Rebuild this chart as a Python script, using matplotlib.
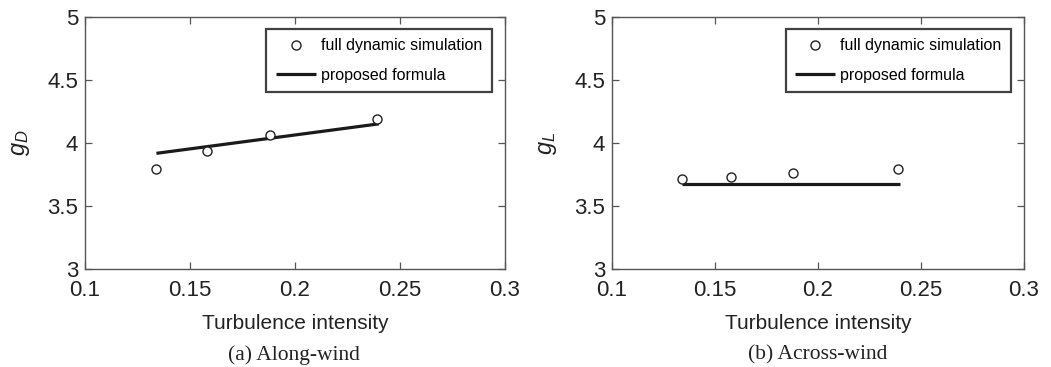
import matplotlib
matplotlib.use("Agg")
import matplotlib.pyplot as plt

# Data
ti_sim = [0.134, 0.158, 0.188, 0.239]
gD_sim = [3.795, 3.94, 4.066, 4.188]
gL_sim = [3.714, 3.73, 3.762, 3.794]
ti_formula = [0.134, 0.240]
gD_formula = [3.918, 4.152]
gL_formula = [3.675, 3.675]

xticks = [0.1, 0.15, 0.2, 0.25, 0.3]
xticklabels = ["0.1", "0.15", "0.2", "0.25", "0.3"]
yticks = [3, 3.5, 4, 4.5, 5]
yticklabels = ["3", "3.5", "4", "4.5", "5"]

plt.rcParams['font.family'] = ['Liberation Sans', 'DejaVu Sans']
plt.rcParams['mathtext.fontset'] = 'custom'
plt.rcParams['mathtext.it'] = 'Liberation Sans:italic'
plt.rcParams['mathtext.rm'] = 'Liberation Sans'

fig = plt.figure(figsize=(10.51, 3.67), dpi=100)
ax1 = fig.add_axes([85/1051, 1-269/367, 420/1051, 252/367])
ax2 = fig.add_axes([612/1051, 1-269/367, 412/1051, 252/367])

spine_col = '#555555'
for ax, ysim, yf, ylab, cap, capx in [
    (ax1, gD_sim, gD_formula, r'$g_D$', '(a) Along-wind', 294/1051),
    (ax2, gL_sim, gL_formula, r'$g_L$', '(b) Across-wind', 818/1051),
]:
    ax.plot(ti_sim, ysim, linestyle='none', marker='o', markersize=6.5,
            markerfacecolor='white', markeredgecolor='#222222', markeredgewidth=1.0,
            label='full dynamic simulation', zorder=3)
    ax.plot(ti_formula, yf, color='#1a1a1a', linewidth=2.3, solid_capstyle='butt',
            label='proposed formula', zorder=2)
    ax.set_xlim(0.1, 0.3)
    ax.set_ylim(3, 5)
    ax.set_xticks(xticks)
    ax.set_xticklabels(xticklabels)
    ax.set_yticks(yticks)
    ax.set_yticklabels(yticklabels)
    ax.tick_params(direction='in', top=True, right=True, length=5, width=0.9,
                   color=spine_col, labelsize=16, labelcolor='#222222')
    ax.tick_params(axis='x', pad=8)
    ax.tick_params(axis='y', pad=5)
    for s in ax.spines.values():
        s.set_color(spine_col)
        s.set_linewidth(1.0)
    ax.set_xlabel('Turbulence intensity', fontsize=15, color='#222222', labelpad=9)
    ax.set_ylabel(ylab, fontsize=17, color='#222222', labelpad=11)
    leg = ax.legend(loc='upper right', bbox_to_anchor=(0.968, 0.953),
                    fontsize=11.5, frameon=True, fancybox=False, handlelength=2.5,
                    borderpad=0.6, labelspacing=0.9, handletextpad=0.3, borderaxespad=0)
    leg.get_frame().set_edgecolor('#111111')
    leg.get_frame().set_linewidth(1.6)
    fig.text(capx, 1-355/367, cap, ha='center', va='center', fontsize=15.5,
             family='Liberation Serif', color='#222222')

fig.savefig('out.png', dpi=100)
